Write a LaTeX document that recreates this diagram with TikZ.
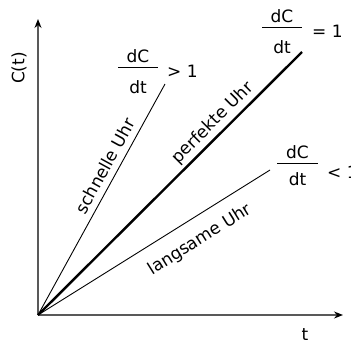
\documentclass[tikz,border=0pt]{standalone}
\usepackage{fontspec}
\setmainfont{DejaVu Sans}
\usetikzlibrary{arrows.meta}
\begin{document}
\begin{tikzpicture}[x=1pt,y=-1pt,
  lbl/.style={inner sep=0pt,font=\fontsize{17}{20}\selectfont},
  axis/.style={draw=black!65,line width=1.4pt,-{Stealth[length=9pt,width=7pt,inset=3pt,color=black]}},
  thin/.style={line width=0.9pt},
  thick/.style={line width=2.4pt}]
\useasboundingbox (0,0) rectangle (351,343);
\coordinate (O) at (38,315);
\coordinate (Ytip) at (38,19);
\coordinate (Xtip) at (343,315);
\coordinate (S) at (165,84);
\coordinate (P) at (302,52);
\coordinate (L) at (270,170);
\draw[axis] (O) -- (Ytip);
\draw[axis] (O) -- (Xtip);
\draw[thin] (O) -- (S);
\draw[thick] (O) -- (P);
\draw[thin] (O) -- (L);
\node[lbl,rotate=90] (ct) at (19,68) {C(t)};
\node[lbl,anchor=base] (t) at (305,340) {t};
\node[lbl,rotate=61.2] (sl) at (105,166) {schnelle Uhr};
\node[lbl,rotate=44.9] (pl) at (213,123) {perfekte Uhr};
\node[lbl,rotate=32] (ll) at (200,240) {langsame Uhr};
% dC/dt > 1
\coordinate (b1a) at (118,67); \coordinate (b1b) at (158,67);
\draw[thin] (b1a) -- (b1b);
\node[lbl,anchor=base] (n1) at (138,62) {dC};
\node[lbl,anchor=base] (d1) at (138,93) {dt};
\node[lbl,anchor=base west] (r1) at (167,77) {> 1};
% dC/dt = 1
\coordinate (b2a) at (262,27); \coordinate (b2b) at (302,27);
\draw[thin] (b2a) -- (b2b);
\node[lbl,anchor=base] (n2) at (282,22) {dC};
\node[lbl,anchor=base] (d2) at (282,53) {dt};
\node[lbl,anchor=base west] (r2) at (312,37) {= 1};
% dC/dt < 1
\coordinate (b3a) at (277,163); \coordinate (b3b) at (318,163);
\draw[thin] (b3a) -- (b3b);
\node[lbl,anchor=base] (n3) at (297.5,158) {dC};
\node[lbl,anchor=base] (d3) at (297.5,185) {dt};
\node[lbl,anchor=base west] (r3) at (327,178) {< 1};
\end{tikzpicture}
\end{document}
